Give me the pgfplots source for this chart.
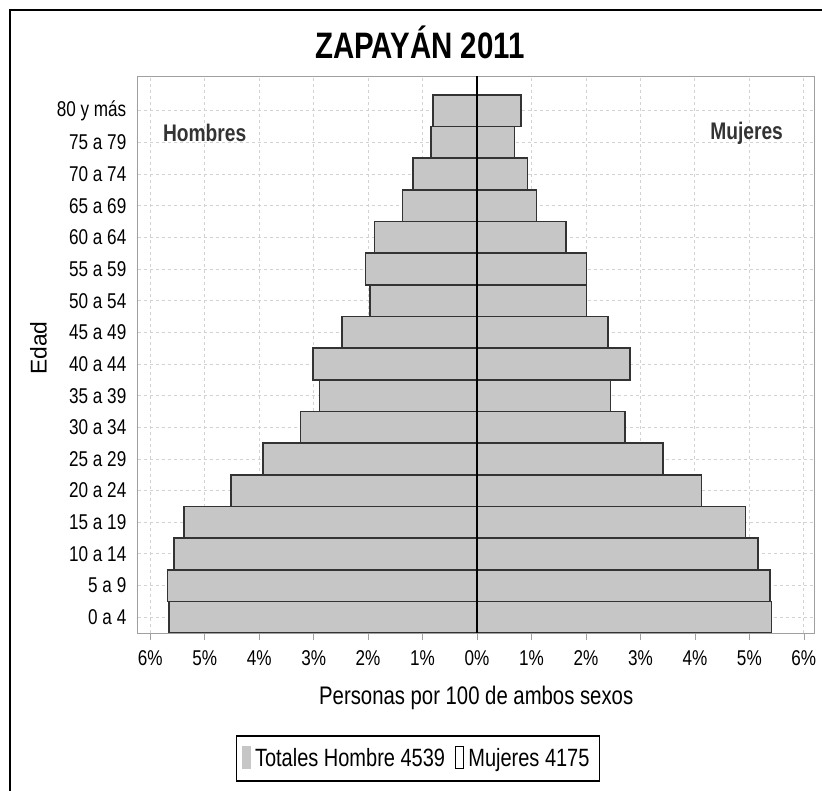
\documentclass[border=0pt]{standalone}
\usepackage{fontspec}
\setmainfont{Liberation Sans}[FakeStretch=0.8]
\newfontfamily\plainfont{Liberation Sans}
\usepackage{pgfplots}
\pgfplotsset{compat=1.18}

\definecolor{barfill}{HTML}{C6C6C6}
\definecolor{barline}{HTML}{333333}
\definecolor{frameg}{HTML}{A0A0A0}

\begin{document}
\begin{tikzpicture}
% page = 822x790 px at 2 px per pt; axis box sits at the origin
\path[use as bounding box] (-68.85pt,-78.5pt) rectangle (342.15pt,316.5pt);
\draw[black, line width=1pt] (-63.85pt,-80pt) -- (-63.85pt,311.5pt) -- (345pt,311.5pt);
\node[font=\bfseries\fontsize{18.4}{20}\selectfont] at (141.15pt,295.5pt) {ZAPAYÁN 2011};
\node[font=\plainfont\fontsize{11.4}{13}\selectfont, rotate=90] at (-49.6pt,142.5pt) {Edad};

\begin{axis}[
  at={(0,0)}, anchor=south west,
  scale only axis, width=338.5pt, height=278.5pt,
  xmin=-6.23, xmax=6.2, ymin=-0.5, ymax=17.1,
  axis line style={frameg},
  xtick={-6,-5,-4,-3,-2,-1,0,1,2,3,4,5,6},
  xticklabels={6\%,5\%,4\%,3\%,2\%,1\%,0\%,1\%,2\%,3\%,4\%,5\%,6\%},
  ytick={0,...,16},
  yticklabels={0 a 4,5 a 9,10 a 14,15 a 19,20 a 24,25 a 29,30 a 34,35 a 39,
               40 a 44,45 a 49,50 a 54,55 a 59,60 a 64,65 a 69,70 a 74,75 a 79,80 y más},
  xtick pos=left, tick align=outside, major tick length=3.5pt,
  xtick style={frameg}, ytick style={draw=none},
  tick label style={font=\fontsize{10.7}{12}\selectfont, inner sep=0pt},
  xticklabel style={anchor=center, yshift=-9pt},
  yticklabel style={anchor=east, xshift=-2pt},
  grid=major, grid style={gray!35, dash pattern=on 1.5pt off 1.5pt},
  xlabel={Personas por 100 de ambos sexos},
  xlabel style={font=\fontsize{12.7}{14}\selectfont, at={(0.5,0)}, anchor=center, yshift=-32.5pt},
  legend columns=2,
  legend style={at={(0.414,-0.2253)}, anchor=center, draw=black, line width=0.7pt,
    font=\fontsize{12.5}{14}\selectfont, inner xsep=3pt, inner ysep=4pt,
    /tikz/every even column/.append style={column sep=3pt}},
]
% Hombres (negative side)
\addplot[xbar, bar width=1, bar shift=0pt, fill=barfill, draw=barline, line width=0.8pt,
  legend image code/.code={\fill[barfill] (0pt,-5pt) rectangle (3.5pt,6pt);}]
  coordinates {
    (-5.65,0) (-5.68,1) (-5.56,2) (-5.38,3) (-4.52,4) (-3.93,5) (-3.24,6) (-2.89,7)
    (-3.01,8) (-2.48,9) (-1.97,10) (-2.05,11) (-1.88,12) (-1.37,13) (-1.17,14) (-0.85,15) (-0.81,16)
  };
\addlegendentry{Totales Hombre 4539}
% Mujeres (positive side)
\addplot[xbar, bar width=1, bar shift=0pt, fill=barfill, draw=barline, line width=0.8pt,
  legend image code/.code={\draw[black, fill=white, line width=0.6pt] (0pt,-5pt) rectangle (4pt,6pt);}]
  coordinates {
    (5.41,0) (5.38,1) (5.16,2) (4.93,3) (4.12,4) (3.41,5) (2.72,6) (2.45,7)
    (2.81,8) (2.40,9) (2.01,10) (2.01,11) (1.63,12) (1.09,13) (0.93,14) (0.69,15) (0.81,16)
  };
\addlegendentry{Mujeres 4175}
% zero line
\addplot[black, line width=0.6pt, forget plot] coordinates {(0,-0.5) (0,17.1)};
\node[font=\bfseries\fontsize{12}{14}\selectfont, text=black!80] at (axis cs:-5.0,15.3) {Hombres};
\node[font=\bfseries\fontsize{12}{14}\selectfont, text=black!80] at (axis cs:4.95,15.3) {Mujeres};
\end{axis}
\end{tikzpicture}
\end{document}
